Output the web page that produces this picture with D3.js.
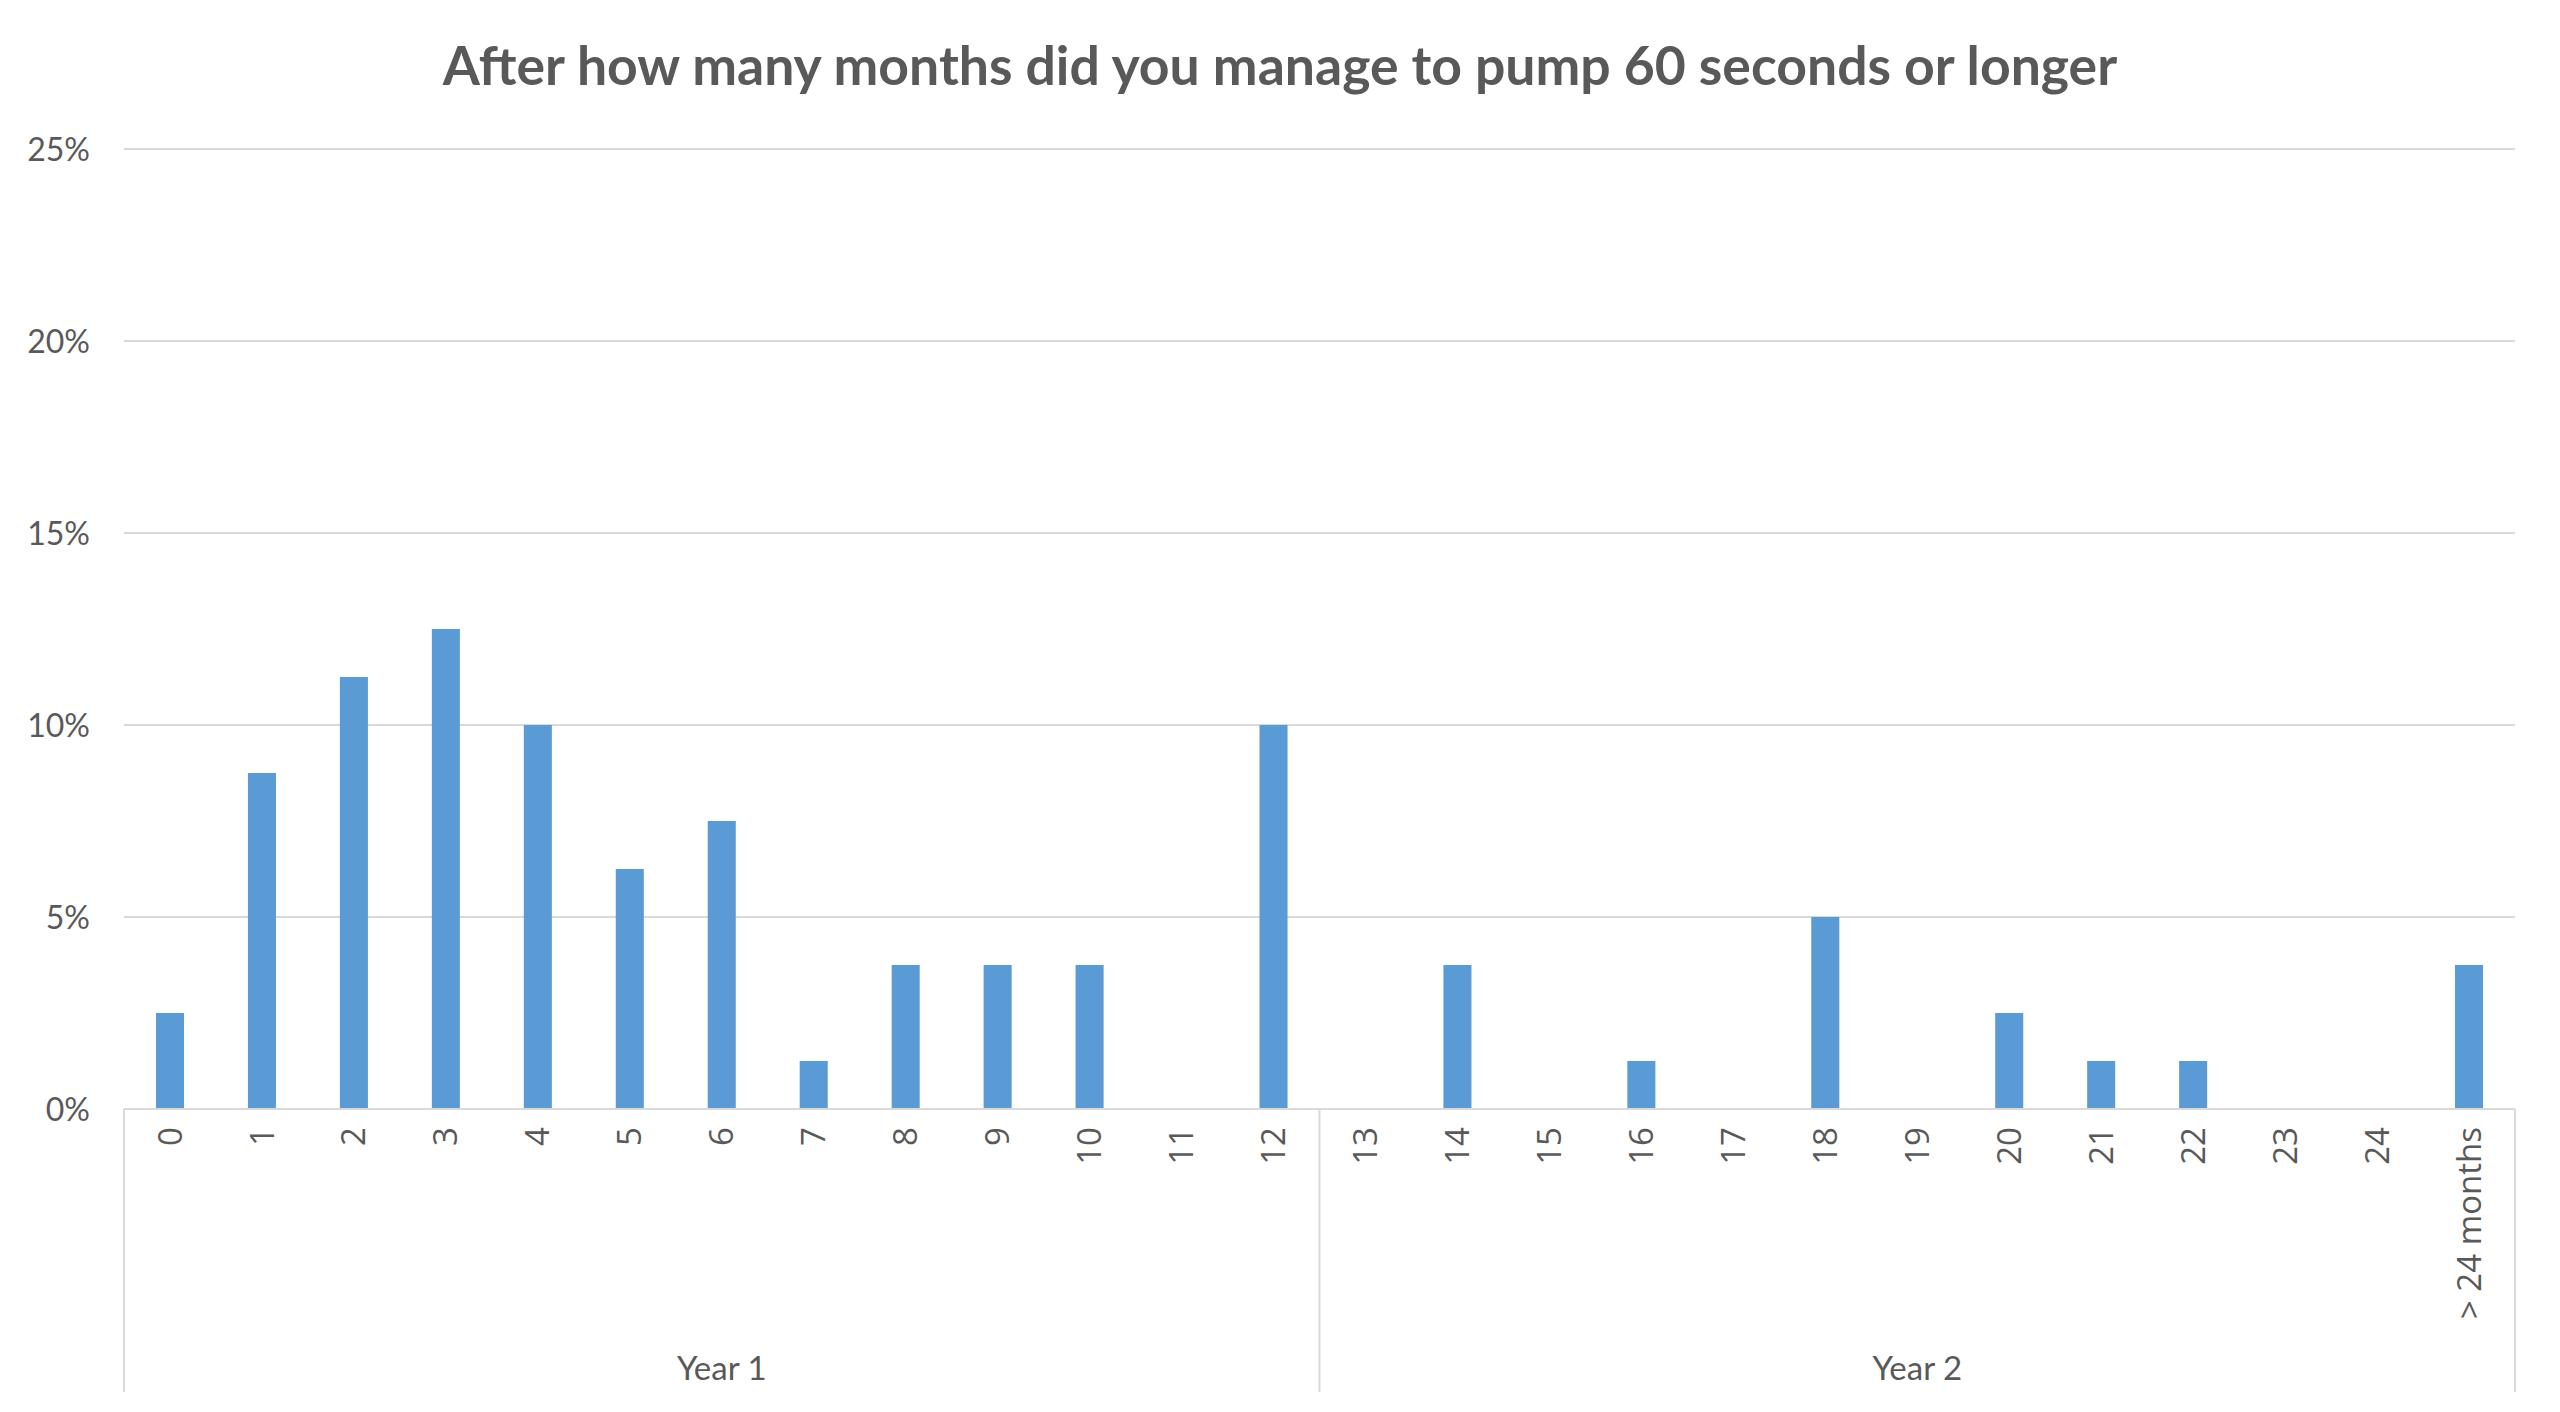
<!DOCTYPE html>
<html><head><meta charset="utf-8">
<script src="https://cdn.jsdelivr.net/npm/d3@7"></script>
<style>
html,body{margin:0;padding:0;background:#fff;}
svg{display:block;}
</style></head>
<body>
<svg id="chart" width="2560" height="1412"></svg>
<script>
const title = "After how many months did you manage to pump 60 seconds or longer";
const categories = ["0","1","2","3","4","5","6","7","8","9","10","11","12","13","14","15","16","17","18","19","20","21","22","23","24","> 24 months"];
const values = [2.5,8.75,11.25,12.5,10,6.25,7.5,1.25,3.75,3.75,3.75,0,10,0,3.75,0,1.25,0,5,0,2.5,1.25,1.25,0,0,3.75];
const groups = ["Year 1","Year 2"];
const groupSpans = [[0,12],[13,25]];
const yTicks = [0,5,10,15,20,25];

const W = 2560, H = 1412;
const m = {left:124, right:45, top:149, bottom:303};
const svg = d3.select("#chart");
const textColor = "#595959";
const gridColor = "#D9D9D9";

const x = d3.scaleBand().domain(categories).range([m.left, W - m.right]).paddingInner(0.695).paddingOuter(0.3475);
const y = d3.scaleLinear().domain([0,25]).range([H - m.bottom, m.top]);

// gridlines
svg.append("g").selectAll("line").data(yTicks.filter(d=>d>0)).join("line")
  .attr("x1", m.left).attr("x2", W - m.right)
  .attr("y1", d=>y(d)).attr("y2", d=>y(d))
  .attr("stroke", gridColor).attr("stroke-width", 2);

// y axis labels
const yAxis = d3.axisLeft(y).tickValues(yTicks).tickSize(0).tickPadding(0).tickFormat(d=>d+"%");
const gy = svg.append("g").attr("transform", `translate(${m.left-34},0)`).call(yAxis);
gy.select(".domain").remove();
gy.selectAll("text").attr("font-family","Lato, 'Open Sans', sans-serif").attr("font-size",32).attr("fill",textColor).attr("dy","0.35em");

// bars
svg.append("g").selectAll("rect").data(values).join("rect")
  .attr("x", (d,i)=>x(categories[i]))
  .attr("width", x.bandwidth())
  .attr("y", d=>y(d))
  .attr("height", d=>y(0)-y(d))
  .attr("fill", "#5B9BD5");

// baseline
svg.append("line").attr("x1", m.left).attr("x2", W - m.right)
  .attr("y1", y(0)).attr("y2", y(0)).attr("stroke", gridColor).attr("stroke-width", 2);

// x category labels
const step = x.step();
const xAxis = d3.axisBottom(x).tickSize(0).tickPadding(0);
const gx = svg.append("g").attr("transform", `translate(0,${y(0)})`).call(xAxis);
gx.select(".domain").remove();
gx.selectAll("text")
  .attr("font-family","'Open Sans', sans-serif").attr("font-size",33).attr("fill",textColor)
  .attr("text-anchor","end")
  .attr("transform","rotate(-90)")
  .attr("x",-18).attr("y",0).attr("dy","0.35em");

// group separators
const edgeX = i => m.left + i*step;
const sepX = [edgeX(0), edgeX(13), edgeX(26)];
svg.append("g").selectAll("line").data(sepX).join("line")
  .attr("x1",d=>d).attr("x2",d=>d)
  .attr("y1", y(0)).attr("y2", 1392)
  .attr("stroke", gridColor).attr("stroke-width", 2);

// group labels
svg.append("g").selectAll("text").data(groups).join("text")
  .attr("x",(d,i)=> (edgeX(groupSpans[i][0]) + edgeX(groupSpans[i][1]+1))/2)
  .attr("y", 1368).attr("dy","0.35em")
  .attr("text-anchor","middle")
  .attr("font-family","Lato, 'Open Sans', sans-serif").attr("font-size",33).attr("fill",textColor)
  .text(d=>d);

// title
const t = svg.append("text").attr("x", 1280).attr("y", 66).attr("dy","0.35em")
  .attr("text-anchor","middle")
  .attr("font-family","Lato, 'Open Sans', sans-serif").attr("font-weight","bold")
  .attr("font-size",48).attr("fill",textColor).text(title);
const tw = t.node().getComputedTextLength();
t.attr("font-size", 48 * 1675 / tw);
</script>
</body></html>
